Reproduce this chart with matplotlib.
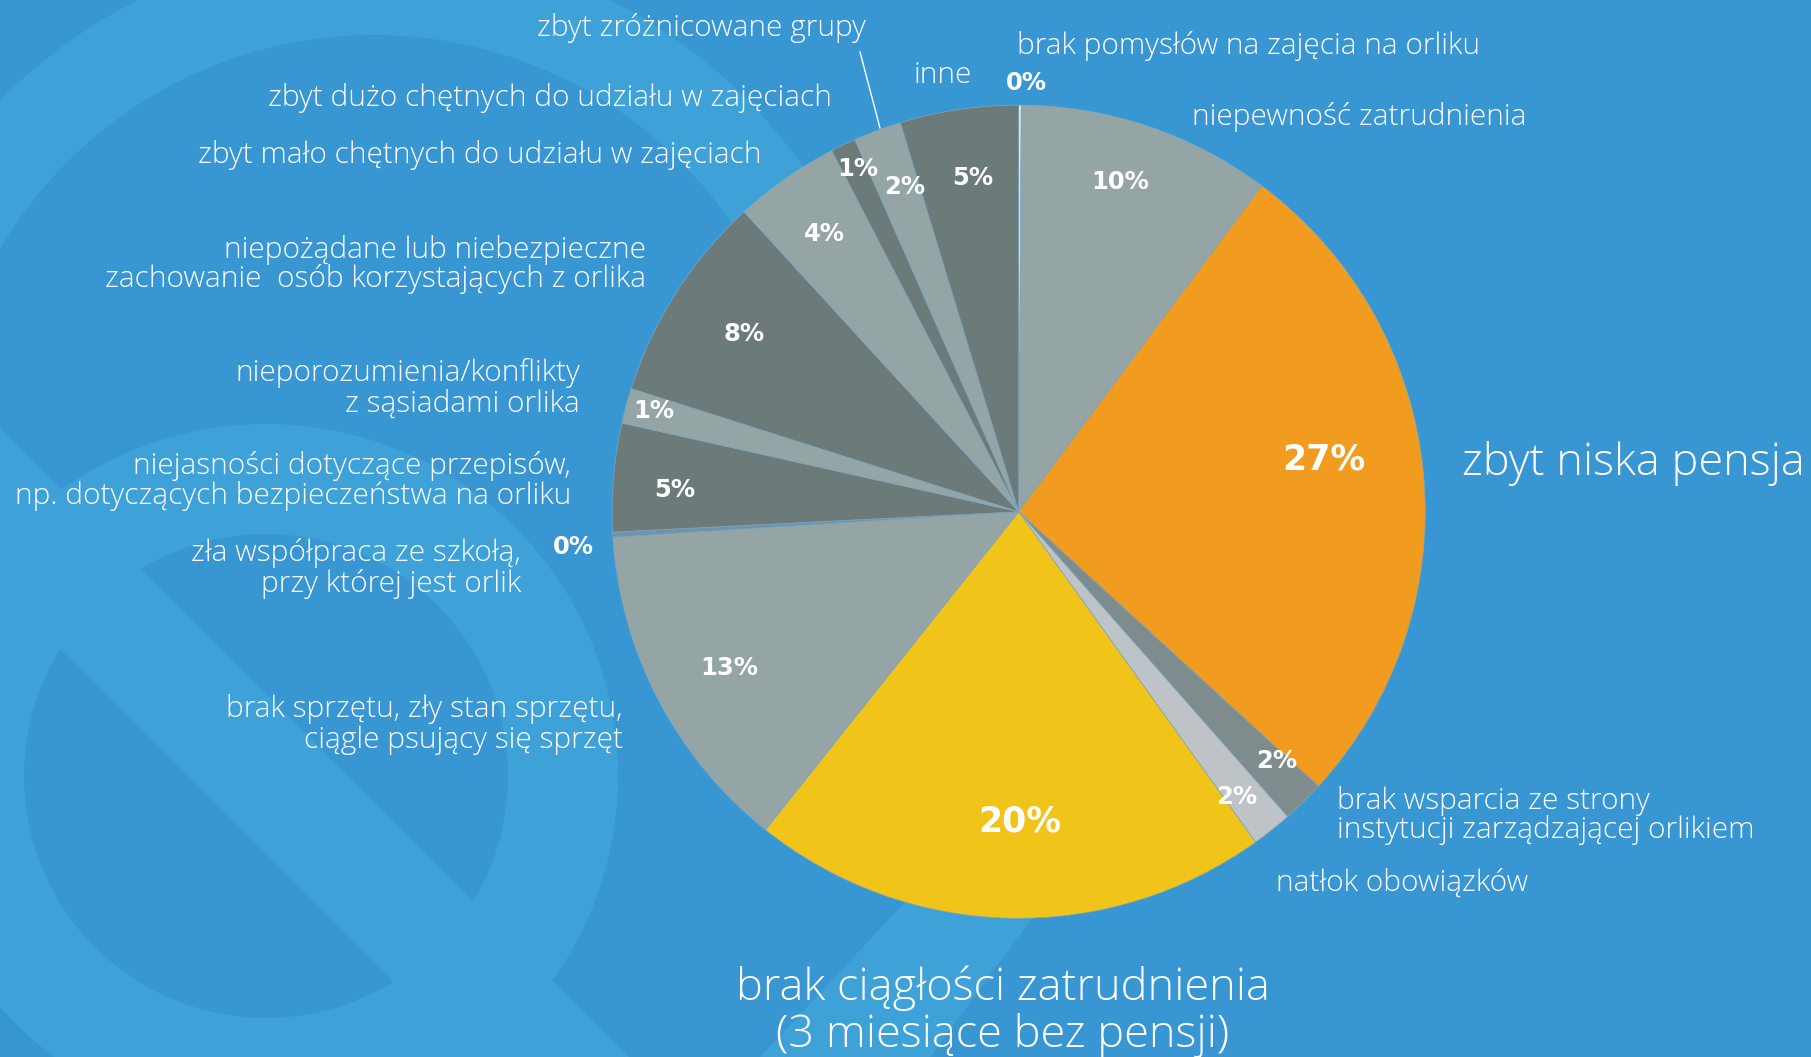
import matplotlib
matplotlib.use('Agg')
import matplotlib.pyplot as plt
from matplotlib.patches import Wedge, Circle, Polygon

W, H = 1811, 1057

# ---------------- data ----------------
categories = [
    'brak pomysłów na zajęcia na orliku',
    'niepewność zatrudnienia',
    'zbyt niska pensja',
    'brak wsparcia ze strony\ninstytucji zarządzającej orlikiem',
    'natłok obowiązków',
    'brak ciągłości zatrudnienia\n(3 miesiące bez pensji)',
    'brak sprzętu, zły stan sprzętu,\nciągle psujący się sprzęt',
    'zła współpraca ze szkołą,\nprzy której jest orlik',
    'niejasności dotyczące przepisów,\nnp. dotyczących bezpieczeństwa na orliku',
    'nieporozumienia/konflikty\nz sąsiadami orlika',
    'niepożądane lub niebezpieczne\nzachowanie  osób korzystających z orlika',
    'zbyt mało chętnych do udziału w zajęciach',
    'zbyt dużo chętnych do udziału w zajęciach',
    'zbyt zróżnicowane grupy',
    'inne',
]
values = [0.1, 10.1, 26.6, 1.7, 1.6, 20.6, 13.3, 0.2, 4.3, 1.4, 8.3, 4.2, 1.0, 1.9, 4.7]
pct_labels = ['0%', '10%', '27%', '2%', '2%', '20%', '13%', '0%', '5%', '1%',
              '8%', '4%', '1%', '2%', '5%']

# ---------------- styles / layout ----------------
colors = ['#E6EDEF', '#95A5A6', '#F29C1F', '#7F8C8D', '#BDC3C7', '#F0C419',
          '#95A5A6', '#6F93A8', '#6C7A7A', '#95A5A6', '#6C7A7A', '#95A5A6',
          '#6C7A7A', '#95A5A6', '#6C7A7A']
BASE = '#3896D3'
LIGHT = '#3EA2D8'

cx, cy, R = 1018.7, 511.7, 406.6   # pie centre / radius in image pixels

def Y(y):
    return H - y

# (x, y of first line, ha, size-class, line gap)
cat_layout = [
    (1017, 43, 'left', 'small', 30),
    (1192, 114, 'left', 'small', 30),
    (1462, 460, 'left', 'big', 47),
    (1337, 798, 'left', 'small', 29),
    (1276, 880, 'left', 'small', 30),
    (1003, 984, 'center', 'big', 47),
    (623, 706, 'right', 'small', 31),
    (521, 550, 'right', 'small', 31),
    (571, 463, 'right', 'small', 30),
    (580, 370, 'right', 'small', 31),
    (646, 247, 'right', 'small', 29),
    (762, 152, 'right', 'small', 30),
    (832, 95, 'right', 'small', 30),
    (866, 25, 'right', 'small', 30),
    (914, 72, 'left', 'small', 30),
]
label_shift = {'small': 3, 'big': 4}
pct_layout = [
    (1026, 83, 'small'), (1120, 182, 'small'), (1324, 460, 'big'),
    (1277, 761, 'small'), (1237, 797, 'small'), (1020, 822, 'big'),
    (729, 668, 'small'), (573, 547, 'small'), (675, 490, 'small'),
    (654, 411, 'small'), (744, 334, 'small'), (824, 234, 'small'),
    (858, 169, 'small'), (905, 187, 'small'), (973, 178, 'small'),
]
label_font = dict(family=['Open Sans', 'DejaVu Sans'], weight='light')
label_sizes = {'small': 21.5, 'big': 32.5}
pct_sizes = {'small': 17.5, 'big': 25}

# ---------------- figure ----------------
fig = plt.figure(figsize=(W / 100, H / 100), dpi=100, facecolor=BASE)
ax = fig.add_axes([0, 0, 1, 1])
ax.set_facecolor(BASE)

# decorative background shapes
ax.add_patch(Wedge((374, Y(469)), 525, -20, 200, width=91, facecolor=LIGHT,
                   edgecolor='none', zorder=0.1))
ax.add_patch(Circle((266, Y(776)), 352, facecolor=LIGHT, edgecolor='none', zorder=0.2))
ax.add_patch(Circle((266, Y(776)), 242, facecolor=BASE, edgecolor='none', zorder=0.3))
ax.add_patch(Polygon([(0, Y(428)), (0, Y(589)), (468, Y(1057)), (629, Y(1057))],
                     closed=True, facecolor=LIGHT, edgecolor='none', zorder=0.4))
ax.add_patch(Polygon([(760, Y(1057)), (930, Y(1057)), (1060, Y(880)), (935, Y(870))],
                     closed=True, facecolor=LIGHT, edgecolor='none', zorder=0.4))

# pie
ax.pie(values, colors=colors, startangle=90, counterclock=False,
       center=(cx, Y(cy)), radius=R, frame=True,
       wedgeprops=dict(edgecolor='#7FA6BE', linewidth=0.5, zorder=1))

# category labels
for text, (x, y, ha, sc, gap) in zip(categories, cat_layout):
    for i, line in enumerate(text.split('\n')):
        ax.text(x, Y(y + label_shift[sc] + i * gap), line, ha=ha, va='center',
                color='white', fontsize=label_sizes[sc], zorder=3, **label_font)

# percentage labels
for text, (x, y, sc) in zip(pct_labels, pct_layout):
    ax.text(x, Y(y), text, ha='center', va='center', color='white',
            fontsize=pct_sizes[sc], fontweight='bold', family='DejaVu Sans', zorder=3)

# leader line for "zbyt zróżnicowane grupy"
ax.plot([860, 880], [Y(52), Y(128)], color='white', lw=1, zorder=3)

ax.set_xlim(0, W)
ax.set_ylim(0, H)
ax.set_aspect('auto')
ax.axis('off')

fig.savefig('out.png', dpi=100, facecolor=BASE)
